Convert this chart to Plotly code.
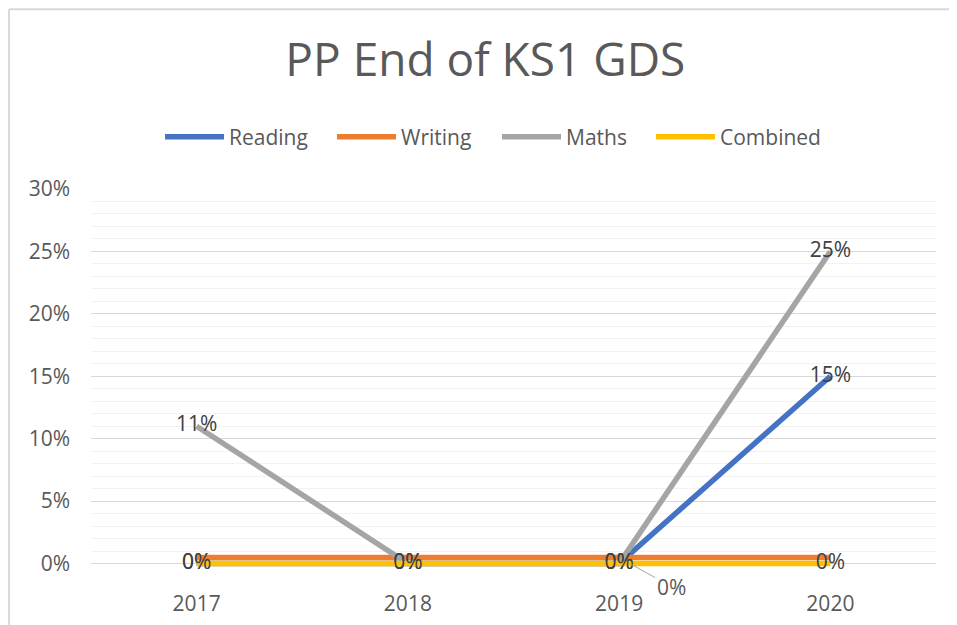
import plotly.graph_objects as go

years = ["2017", "2018", "2019", "2020"]
reading = [0.0, 0.0, 0.0, 0.15]
writing = [0.0048, 0.0048, 0.0048, 0.0048]
maths = [0.11, 0.0, 0.0, 0.25]
combined = [0.0, 0.0, 0.0, 0.0]

title_text = "PP End of KS1 GDS"
y_ticks = [0, 0.05, 0.10, 0.15, 0.20, 0.25, 0.30]

FONT = "Open Sans"
TXT = "#595959"

fig = go.Figure()

series = [
    ("Reading", reading, "#4472C4", True, "legend", 0.0817),
    ("Writing", writing, "#ED7D31", False, "legend2", 0.2852),
    ("Maths", maths, "#A5A5A5", True, "legend3", 0.4805),
    ("Combined", combined, "#FFC000", True, "legend4", 0.6627),
]
legend_layout = {}
for name, vals, col, lab, lg, lx in series:
    fig.add_trace(go.Scatter(
        x=years, y=vals, name=name,
        mode="lines+text" if lab else "lines",
        line=dict(color=col, width=5.5),
        texttemplate="%{y:.0%}" if lab else None,
        textposition="middle center",
        textfont=dict(family=FONT, size=21, color="#404040"),
        cliponaxis=False,
        hoverinfo="skip",
        legend=lg,
    ))
    legend_layout[lg] = dict(orientation="h", x=lx, xanchor="left", y=1.136, yanchor="middle",
                             font=dict(family=FONT, size=21, color=TXT), itemwidth=59,
                             bgcolor="rgba(0,0,0,0)")

fig.add_annotation(
    x=2, y=writing[2], xref="x", yref="y",
    text=f"{writing[2]:.0%}", showarrow=True,
    ax=52, ay=29, arrowhead=0, arrowwidth=1, arrowcolor="#A6A6A6",
    standoff=12,
    font=dict(family=FONT, size=21, color="#595959"),
)

# chart border (left and top)
fig.add_shape(type="line", xref="paper", yref="paper",
              x0=-0.0970, x1=-0.0970, y0=1.4706, y1=-0.2,
              line=dict(color="#D9D9D9", width=2))
fig.add_shape(type="line", xref="paper", yref="paper",
              x0=-0.0970, x1=1.1, y0=1.4706, y1=1.4706,
              line=dict(color="#D9D9D9", width=2))

fig.update_layout(
    width=949, height=617,
    paper_bgcolor="white", plot_bgcolor="white",
    margin=dict(l=83, r=21, t=181, b=53.5, autoexpand=False),
    title=dict(text=title_text, x=0.503, xanchor="center", y=0.9157, yanchor="middle",
               font=dict(family=FONT, size=46, color=TXT)),
    showlegend=True,
    font=dict(family=FONT, color=TXT),
    **legend_layout,
)

fig.update_xaxes(
    type="category", range=[-0.5, 3.5],
    showgrid=False, showline=False, zeroline=False, ticks="",
    tickfont=dict(family=FONT, size=21, color=TXT),
    ticklabelstandoff=18,
)
fig.update_yaxes(
    range=[-0.006, 0.30], tickvals=y_ticks, tickformat=".0%",
    showgrid=True, gridcolor="#D9D9D9", gridwidth=1,
    zeroline=True, zerolinecolor="#D9D9D9", zerolinewidth=1,
    minor=dict(dtick=0.01, tick0=0, showgrid=True, gridcolor="#F2F2F2", gridwidth=1),
    showline=False, ticks="",
    tickfont=dict(family=FONT, size=21, color=TXT),
    ticklabelstandoff=20,
)

fig.write_html("out.html")
